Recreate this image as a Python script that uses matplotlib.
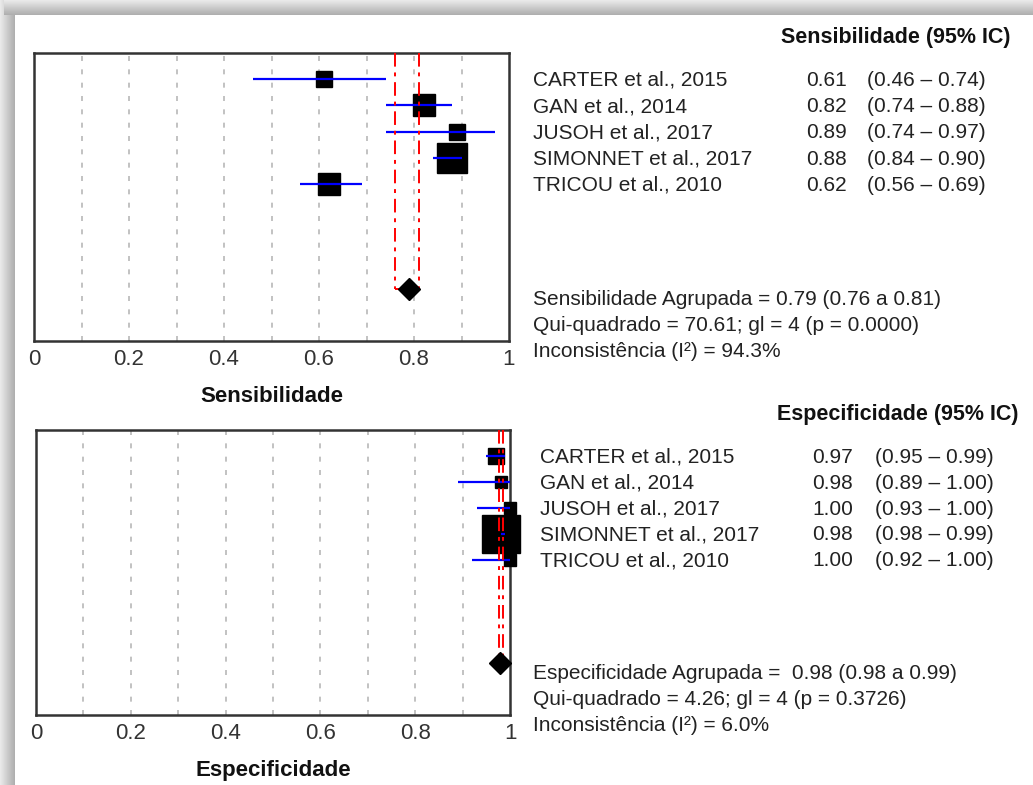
import numpy as np
import matplotlib
matplotlib.use("Agg")
import matplotlib.pyplot as plt
from matplotlib.transforms import blended_transform_factory

plt.rcParams['font.family'] = ['Liberation Sans', 'DejaVu Sans']

# data
studies = ["CARTER et al., 2015", "GAN et al., 2014", "JUSOH et al., 2017",
           "SIMONNET et al., 2017", "TRICOU et al., 2010"]

sens = [0.61, 0.82, 0.89, 0.88, 0.62]
sens_lo = [0.46, 0.74, 0.74, 0.84, 0.56]
sens_hi = [0.74, 0.88, 0.97, 0.90, 0.69]
sens_weight = [10.3, 19.0, 9.9, 38.8, 21.9]
sens_pooled = [0.79, 0.76, 0.81]
sens_stats = ["Sensibilidade Agrupada = 0.79 (0.76 a 0.81)",
              "Qui-quadrado = 70.61; gl = 4 (p = 0.0000)",
              "Inconsistência (I²) = 94.3%"]

spec = [0.97, 0.98, 1.00, 0.98, 1.00]
spec_lo = [0.95, 0.89, 0.93, 0.98, 0.92]
spec_hi = [0.99, 1.00, 1.00, 0.99, 1.00]
spec_weight = [11.5, 7.0, 6.3, 60.0, 6.3]
spec_pooled = [0.979, 0.976, 0.986]
spec_stats = ["Especificidade Agrupada =  0.98 (0.98 a 0.99)",
              "Qui-quadrado = 4.26; gl = 4 (p = 0.3726)",
              "Inconsistência (I²) = 6.0%"]

tick_vals = [0, 0.2, 0.4, 0.6, 0.8, 1]
tick_labels = ["0", "0.2", "0.4", "0.6", "0.8", "1"]

W, H = 1033, 785
fig = plt.figure(figsize=(W / 100, H / 100), dpi=100)

# drop shadow along top and left edges
bg = fig.add_axes([0, 0, 1, 1], zorder=-10)
bg.set_xlim(0, W)
bg.set_ylim(H, 0)
bg.axis('off')
grad = np.linspace(0.92, 0.68, 32)
bg.imshow(grad[None, :], extent=(0, 15, H, 0), cmap='gray', vmin=0, vmax=1, aspect='auto')
bg.imshow(grad[:, None], extent=(4, W, 15, 0), cmap='gray', vmin=0, vmax=1, aspect='auto')

TXT = 15


def px(x):
    return x / W


def forest(rect, est, lo, hi, weight, pooled, xlabel, header, stats, col_x, header_x):
    ax = fig.add_axes(rect)
    rows = np.arange(1, len(est) + 1)
    prow = 9
    ax.set_xlim(0, 1)
    ax.set_ylim(11, 0)

    for g in np.arange(0.1, 0.95, 0.1):
        ax.axvline(g, color='#b8b8b8', lw=1.2, ls=(0, (3, 5)), zorder=1)

    # study squares, size from weight
    for r, e, w in zip(rows, est, weight):
        ax.plot(e, r, marker='s', ms=3.5 * np.sqrt(w), color='black', ls='none',
                zorder=3, clip_on=False)
    ax.hlines(rows, lo, hi, color='#0000ff', lw=1.6, zorder=4, clip_on=False)

    # pooled estimate and its confidence limits
    ax.vlines([pooled[1], pooled[2]], 0, prow, color='red', lw=1.4,
              linestyles=[(0, (7, 3, 2, 3))], zorder=5)
    ax.hlines(prow, pooled[1], pooled[2], color='red', lw=1.4, zorder=5)
    ax.plot(pooled[0], prow, marker='D', ms=11, color='black', zorder=6, clip_on=False)

    ax.set_yticks([])
    ax.set_xticks(tick_vals)
    ax.set_xticklabels(tick_labels)
    ax.tick_params(axis='x', length=0, pad=6, labelsize=16, labelcolor='#333333')
    for s in ax.spines.values():
        s.set_linewidth(1.8)
        s.set_color('#333333')
    ax.set_xlabel(xlabel, fontsize=16, fontweight='bold', labelpad=11, color='#111111')

    tr = blended_transform_factory(fig.transFigure, ax.transData)
    ax.text(px(header_x), -0.6, header, transform=tr, fontsize=15.5, fontweight='bold',
            va='center', ha='left', color='#111111')
    for r, name, e, l, h in zip(rows, studies, est, lo, hi):
        y = r + 0.05
        ax.text(px(col_x[0]), y, name, transform=tr, fontsize=TXT, va='center', color='#222222')
        ax.text(px(col_x[1]), y, f"{e:.2f}", transform=tr, fontsize=TXT, va='center', color='#222222')
        ax.text(px(col_x[2]), y, f"({l:.2f} – {h:.2f})", transform=tr, fontsize=TXT,
                va='center', color='#222222')
    for i, s in enumerate(stats):
        ax.text(px(533), prow + 0.4 + i, s, transform=tr, fontsize=TXT, va='center',
                color='#222222')
    return ax


forest([34 / W, 1 - 341 / H, 475 / W, 288 / H], sens, sens_lo, sens_hi, sens_weight,
       sens_pooled, "Sensibilidade", "Sensibilidade (95% IC)", sens_stats,
       (533, 806, 867), 781)
forest([36 / W, 1 - 715 / H, 474 / W, 285 / H], spec, spec_lo, spec_hi, spec_weight,
       spec_pooled, "Especificidade", "Especificidade (95% IC)", spec_stats,
       (540, 812, 875), 777)

fig.savefig("out.png", dpi=100)
